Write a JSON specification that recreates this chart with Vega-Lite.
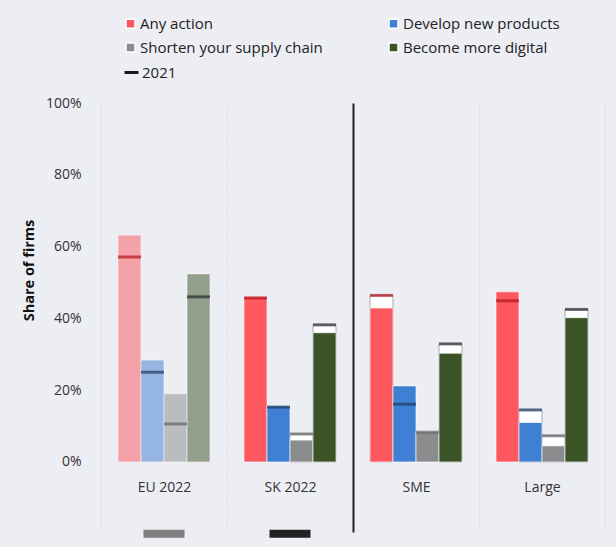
{
  "$schema": "https://vega.github.io/schema/vega-lite/v6.json",
  "width": 504,
  "height": 429,
  "autosize": {"type": "none"},
  "padding": {"left": 101, "top": 103, "right": 11, "bottom": 15},
  "background": "#EDEDF4",
  "config": {"view": {"stroke": null}, "font": "Open Sans"},
  "data": {
    "values": [
      {"group": "EU 2022", "measure": "Any action", "v2022": 63.2, "v2021": 57.1},
      {"group": "EU 2022", "measure": "Develop new products", "v2022": 28.4, "v2021": 25.0},
      {"group": "EU 2022", "measure": "Shorten your supply chain", "v2022": 19.0, "v2021": 10.6},
      {"group": "EU 2022", "measure": "Become more digital", "v2022": 52.4, "v2021": 46.0},
      {"group": "SK 2022", "measure": "Any action", "v2022": 46.0, "v2021": 45.7},
      {"group": "SK 2022", "measure": "Develop new products", "v2022": 15.6, "v2021": 15.3},
      {"group": "SK 2022", "measure": "Shorten your supply chain", "v2022": 6.1, "v2021": 7.8},
      {"group": "SK 2022", "measure": "Become more digital", "v2022": 36.0, "v2021": 38.2},
      {"group": "SME", "measure": "Any action", "v2022": 42.9, "v2021": 46.4},
      {"group": "SME", "measure": "Develop new products", "v2022": 21.2, "v2021": 16.1},
      {"group": "SME", "measure": "Shorten your supply chain", "v2022": 8.4, "v2021": 8.3},
      {"group": "SME", "measure": "Become more digital", "v2022": 30.3, "v2021": 32.9},
      {"group": "Large", "measure": "Any action", "v2022": 47.4, "v2021": 44.9},
      {"group": "Large", "measure": "Develop new products", "v2022": 11.0, "v2021": 14.5},
      {"group": "Large", "measure": "Shorten your supply chain", "v2022": 4.5, "v2021": 7.3},
      {"group": "Large", "measure": "Become more digital", "v2022": 40.2, "v2021": 42.5}
    ]
  },
  "encoding": {
    "x": {
      "field": "group",
      "type": "nominal",
      "sort": ["EU 2022", "SK 2022", "SME", "Large"],
      "scale": {"paddingInner": 0, "paddingOuter": 0},
      "axis": {
        "title": null,
        "domain": false,
        "ticks": false,
        "labelAngle": 0,
        "labelPadding": -52,
        "labelFontSize": 14,
        "labelColor": "#333333",
        "grid": true,
        "tickBand": "extent",
        "gridDash": {"condition": {"test": "datum.value === 'SK 2022'", "value": []}, "value": [1, 2]},
        "gridColor": {"condition": {"test": "datum.value === 'SK 2022'", "value": "#222222"}, "value": "#c8c8d2"},
        "gridWidth": {"condition": {"test": "datum.value === 'SK 2022'", "value": 2}, "value": 1}
      }
    }
  },
  "layer": [
    {
      "transform": [{"filter": "datum.v2021 > datum.v2022"}],
      "mark": {"type": "bar", "fill": "white", "stroke": "#a8a8b2", "strokeWidth": 1},
      "encoding": {
        "xOffset": {"field": "measure", "type": "nominal", "sort": ["Any action", "Develop new products", "Shorten your supply chain", "Become more digital"], "scale": {"paddingInner": 0, "paddingOuter": 0.739}},
        "y": {
          "field": "v2021",
          "type": "quantitative",
          "scale": {"domain": [-19.5, 100], "nice": false, "zero": false},
          "axis": {
            "values": [0, 20, 40, 60, 80, 100],
            "labelExpr": "datum.value + '%'",
            "domain": false,
            "ticks": false,
            "grid": false,
            "labelFontSize": 14,
            "labelColor": "#333333",
            "labelPadding": 20,
            "title": "Share of firms",
            "titleFontSize": 14.5,
            "titleFontWeight": "bold",
            "titleColor": "#111111",
            "titlePadding": 9,
            "titleY": 167
          }
        }
      }
    },
    {
      "mark": {"type": "bar", "stroke": "white", "strokeWidth": 0.8, "strokeOpacity": 0.8},
      "encoding": {
        "xOffset": {"field": "measure", "type": "nominal", "sort": ["Any action", "Develop new products", "Shorten your supply chain", "Become more digital"]},
        "y": {"field": "v2022", "type": "quantitative"},
        "color": {
          "field": "measure",
          "type": "nominal",
          "scale": {
            "domain": ["Any action", "Develop new products", "Shorten your supply chain", "Become more digital"],
            "range": ["#FD585E", "#3F80D4", "#8A8C8E", "#3A5428"]
          },
          "legend": {
            "orient": "none",
            "direction": "horizontal",
            "legendX": 22,
            "legendY": -87,
            "title": null,
            "columns": 2,
            "columnPadding": 63,
            "rowPadding": 8,
            "labelFontSize": 15,
            "labelColor": "#222222",
            "labelOffset": 2,
            "labelLimit": 400,
            "symbolType": "square",
            "symbolSize": 81,
            "symbolOpacity": 1
          }
        },
        "opacity": {"condition": {"test": "datum.group === 'EU 2022'", "value": 0.5}, "value": 1}
      }
    },
    {
      "mark": {"type": "tick", "orient": "horizontal", "thickness": 3, "size": 23},
      "encoding": {
        "xOffset": {"field": "measure", "type": "nominal", "sort": ["Any action", "Develop new products", "Shorten your supply chain", "Become more digital"]},
        "y": {"field": "v2021", "type": "quantitative"},
        "color": {
          "field": "measure",
          "type": "nominal",
          "scale": {
            "domain": ["Any action", "Develop new products", "Shorten your supply chain", "Become more digital"],
            "range": ["#B3141C", "#1E3B63", "#646468", "#2B2B2B"]
          },
          "legend": null
        },
        "strokeDash": {
          "datum": "2021",
          "type": "nominal",
          "scale": {"range": [[1, 0]]},
          "legend": {
            "orient": "none",
            "legendX": 22,
            "legendY": -39,
            "title": null,
            "labelFontSize": 15,
            "labelColor": "#222222",
            "labelOffset": 2,
            "symbolType": "stroke",
            "symbolSize": 196,
            "symbolStrokeWidth": 3,
            "symbolOpacity": 1,
            "symbolStrokeColor": "#1a1a1a",
            "symbolFillColor": "#1a1a1a"
          }
        }
      }
    },
    {
      "data": {"values": [{"group": "EU 2022"}, {"group": "SK 2022"}]},
      "mark": {"type": "bar", "width": 41},
      "encoding": {
        "y": {"datum": -18.9, "type": "quantitative"},
        "y2": {"datum": -21.1},
        "color": {"condition": {"test": "datum.group === 'EU 2022'", "value": "#808080"}, "value": "#222222"}
      }
    }
  ],
  "resolve": {"scale": {"color": "independent"}}
}
